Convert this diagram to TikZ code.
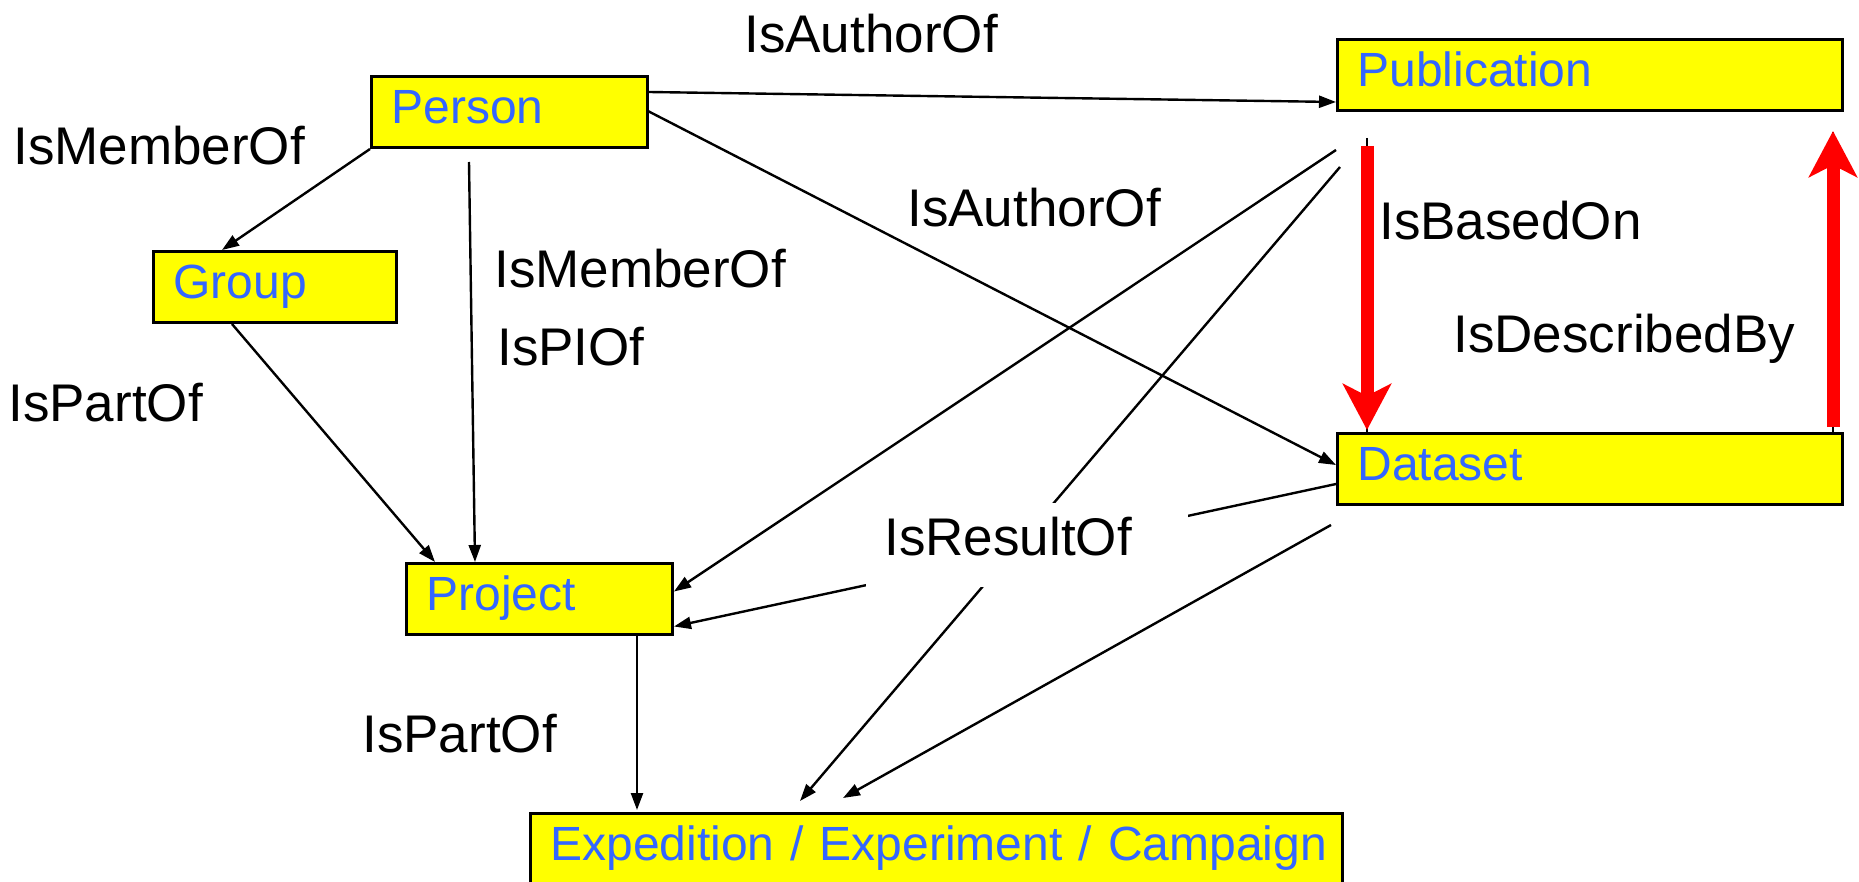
\documentclass[tikz,border=0pt]{standalone}
\usepackage{fontspec}
\setmainfont{Liberation Sans}
\usetikzlibrary{arrows.meta,backgrounds}
\definecolor{boxyellow}{RGB}{255,255,0}
\definecolor{boxblue}{RGB}{51,102,255}
\definecolor{arrowred}{RGB}{255,0,0}
\begin{document}
\begin{tikzpicture}[x=0.5pt,y=-0.5pt,
  entity/.style={draw=black, line width=1.5pt, fill=boxyellow, text=boxblue,
    font=\fontsize{24}{28}\selectfont, inner xsep=10pt, inner ysep=0pt,
    text height=23.5pt, text depth=12pt, align=left, anchor=north west},
  rel/.style={font=\fontsize{26.5}{30}\selectfont, anchor=base west, inner sep=0pt},
  link/.style={line width=1.2pt, -{Triangle[length=8.5pt,width=6pt]}},
  heavy/.style={line width=6.5pt, arrowred, -{Stealth[length=23pt,width=24pt,inset=6pt]}}
]
\useasboundingbox (0,0) rectangle (1859,882);

% entity boxes
\node[entity, text width=118pt]   (person)      at (370,75)   {\mbox{Person}};
\node[entity, text width=232.5pt] (publication) at (1336,38)  {\mbox{Publication}};
\node[entity, text width=101.5pt] (group)       at (152,250)  {\mbox{Group}};
\node[entity, text width=232.5pt] (dataset)     at (1336,432) {\mbox{Dataset}};
\node[entity, text width=113pt]   (project)     at (405,562)  {\mbox{Project}};
\node[entity, text width=386pt]   (expedition)  at (529,812)  {\mbox{Expedition / Experiment / Campaign}};

% relation labels
\node[rel] (authtop)  at (744,53)   {IsAuthorOf};
\node[rel] (memleft)  at (13,165)   {IsMemberOf};
\node[rel] (authmid)  at (907,227)  {IsAuthorOf};
\node[rel] (memmid)   at (494,288)  {IsMemberOf};
\node[rel] (piof)     at (497,365)  {IsPIOf};
\node[rel] (based)    at (1379,240) {IsBasedOn};
\node[rel] (described) at (1453,352) {IsDescribedBy};
\node[rel] (partleft) at (8,422)    {IsPartOf};
\node[rel] (partlow)  at (362,752)  {IsPartOf};
\node[rel, fill=white, inner xsep=9pt, inner ysep=0pt, text height=26pt,
      text depth=16pt, text width=143pt, align=left] (result) at (866,555) {IsResultOf};

\begin{pgfonlayer}{background}
\fill[white] (0,0) rectangle (1859,882);
% black relations
\draw[link] ([yshift=-8.5pt]person.north east) -- ([yshift=5pt]publication.south west);
\draw[link] ([xshift=-2.5pt,yshift=1.5pt]person.east) -- ([yshift=-16.5pt]dataset.north west);
\draw[link] (person.south west) -- ([xshift=35pt]group.north west);
\draw[link] ([xshift=49.5pt,yshift=-6.5pt]person.south west) -- ([xshift=35pt]project.north west);
\draw[link] ([xshift=40pt]group.south west) -- ([xshift=15pt]project.north west);
\draw[link] ([yshift=-19pt]publication.south west) -- ([yshift=3.75pt]project.east);
\draw[link] ([xshift=2pt,yshift=-27.5pt]publication.south west) -- ([xshift=135.5pt,yshift=5.5pt]expedition.north west);
\draw[link] ([yshift=-7.5pt]dataset.west) -- ([yshift=-13.75pt]project.east);
\draw[link] ([xshift=-2.5pt,yshift=-9.5pt]dataset.south west) -- ([xshift=157pt,yshift=7pt]expedition.north west);
\draw[link] ([xshift=116pt]project.south west) -- ([xshift=54pt,yshift=1pt]expedition.north west);
% red relations between publication and dataset
\draw[line width=1pt] ([xshift=15.5pt,yshift=-13pt]publication.south west) -- ([xshift=15.5pt]dataset.north west);
\draw[heavy] ([xshift=15.5pt,yshift=-17pt]publication.south west) -- ([xshift=15.5pt,yshift=1pt]dataset.north west);
\draw[line width=1pt] ([xshift=-5.5pt]dataset.north east) -- ([xshift=-5.5pt,yshift=-10pt]publication.south east);
\draw[heavy] ([xshift=-5.5pt,yshift=2.5pt]dataset.north east) -- ([xshift=-5.5pt,yshift=-9.5pt]publication.south east);
\end{pgfonlayer}
\end{tikzpicture}
\end{document}
